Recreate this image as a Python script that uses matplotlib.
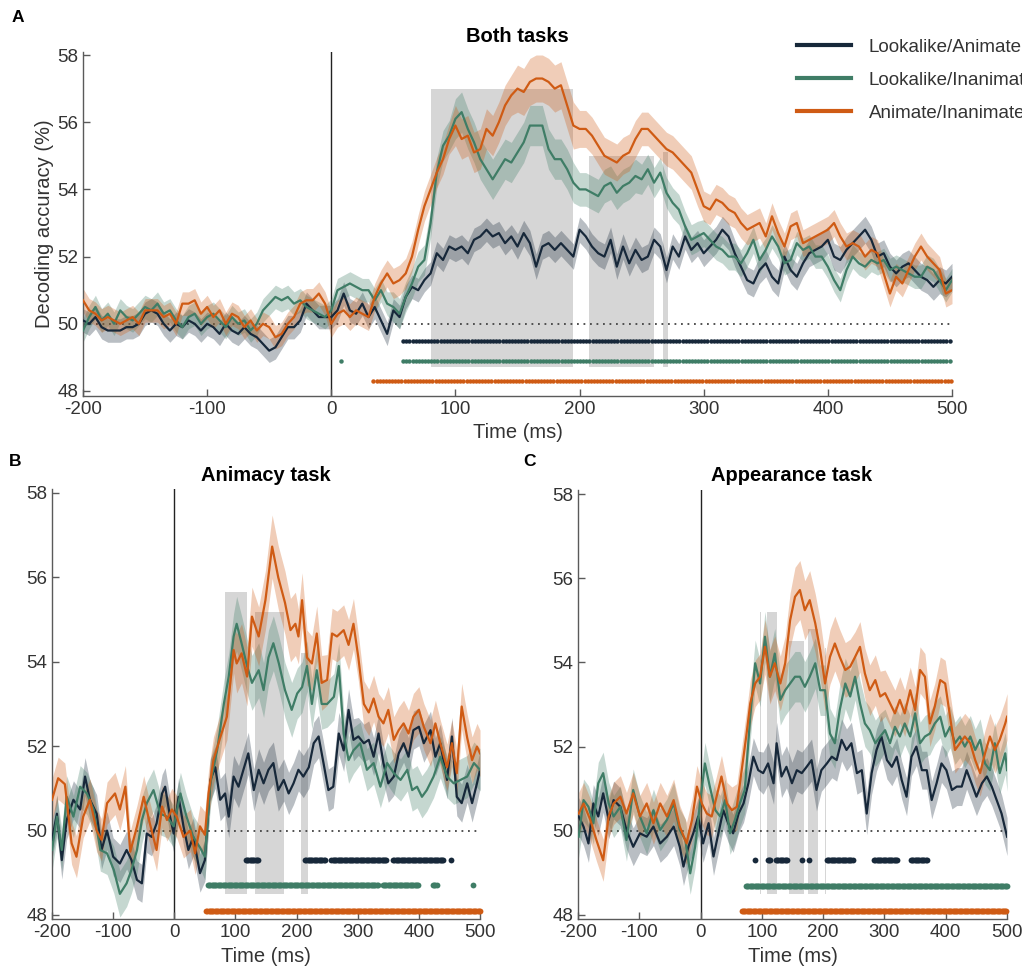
import numpy as np
import matplotlib.pyplot as plt
from matplotlib.patches import Rectangle
from matplotlib.lines import Line2D

plt.rcParams['font.family'] = ['Liberation Sans', 'DejaVu Sans']
plt.rcParams['axes.unicode_minus'] = False

# ---------------- data ----------------
labels = ['Lookalike/Animate', 'Lookalike/Inanimate', 'Animate/Inanimate']

# Panel A (both tasks), 5 ms steps from -200 to 500
t_a = np.arange(-200, 501, 5)
a_dark = [50.1, 50.0, 50.2, 49.9, 49.8, 49.8, 49.8, 49.9, 49.9, 50.0,
          50.3, 50.4, 50.3, 50.0, 49.8, 50.0, 49.9, 50.1, 50.0, 49.8,
          50.0, 49.9, 49.7, 50.0, 49.8, 49.7, 49.9, 49.7, 49.6, 49.4,
          49.2, 49.3, 49.6, 49.9, 49.9, 50.1, 50.6, 50.4, 50.2, 50.2,
          50.2, 50.4, 50.9, 50.4, 50.3, 50.6, 50.2, 50.5, 50.1, 49.7,
          50.4, 50.2, 50.8, 51.1, 51.0, 51.3, 51.5, 52.1, 51.9, 52.3,
          52.2, 52.3, 52.1, 52.5, 52.6, 52.8, 52.6, 52.7, 52.4, 52.6,
          52.3, 52.7, 52.4, 51.7, 52.3, 52.4, 52.2, 52.4, 52.2, 52.0,
          52.8, 52.6, 52.3, 52.1, 52.0, 52.5, 51.7, 52.3, 51.8, 52.2,
          51.9, 52.0, 52.5, 52.3, 51.6, 52.3, 52.0, 52.6, 52.2, 52.4,
          52.1, 52.3, 52.5, 52.8, 52.6, 52.1, 51.7, 51.3, 51.2, 51.6,
          51.8, 51.4, 51.2, 52.0, 51.6, 51.4, 51.8, 52.1, 52.2, 52.3,
          52.5, 52.0, 51.9, 52.2, 52.4, 52.6, 52.8, 52.5, 52.0, 52.1,
          51.7, 51.5, 51.7, 51.8, 51.6, 51.4, 51.3, 51.1, 51.3, 51.2,
          51.4]
a_green = [49.8, 50.2, 50.5, 50.1, 50.3, 50.0, 50.4, 50.2, 50.1, 50.3,
           50.5, 50.4, 50.6, 50.3, 50.4, 50.1, 49.9, 50.2, 50.3, 50.0,
           50.2, 50.3, 50.1, 49.9, 50.2, 50.0, 50.1, 49.8, 50.0, 50.4,
           50.6, 50.8, 50.7, 50.8, 50.6, 50.7, 50.5, 50.4, 50.3, 50.2,
           50.4, 51.0, 51.1, 51.2, 51.1, 51.0, 51.0, 50.7, 51.0, 50.6,
           50.5, 50.3, 50.8, 51.2, 51.7, 51.9, 53.0, 54.5, 55.3, 55.6,
           56.1, 56.3, 55.8, 55.4, 54.9, 54.6, 54.3, 54.6, 54.9, 54.8,
           55.1, 55.4, 55.9, 55.9, 55.9, 55.2, 54.9, 54.9, 54.6, 54.2,
           54.0, 54.0, 53.9, 53.8, 54.1, 54.2, 53.9, 54.1, 54.2, 54.4,
           54.3, 54.6, 54.2, 54.5, 53.9, 53.6, 53.4, 52.9, 52.5, 52.6,
           52.7, 52.5, 52.3, 52.2, 52.0, 52.0, 51.8, 52.1, 52.5, 51.9,
           52.2, 52.6, 52.3, 51.8, 51.9, 52.4, 52.2, 52.3, 52.0, 52.0,
           51.7, 51.3, 51.0, 51.6, 52.0, 51.8, 51.7, 51.9, 51.8, 51.9,
           51.6, 51.7, 51.6, 51.5, 51.4, 51.4, 51.7, 51.6, 51.3, 51.0,
           51.3]
a_orange = [50.7, 50.4, 50.3, 50.1, 50.2, 50.1, 50.0, 50.1, 50.2, 50.0,
            50.4, 50.4, 50.4, 50.2, 50.3, 50.0, 50.6, 50.6, 50.7, 50.3,
            50.5, 50.2, 50.4, 50.0, 50.3, 50.2, 49.9, 50.1, 49.8, 50.0,
            49.9, 49.6, 49.7, 50.0, 50.2, 50.6, 50.7, 50.7, 50.9, 50.6,
            50.0, 50.3, 50.4, 50.2, 50.4, 50.3, 50.2, 50.8, 51.2, 51.5,
            51.2, 51.3, 51.5, 52.0, 52.8, 53.5, 54.0, 54.5, 54.9, 55.5,
            55.9, 55.5, 55.6, 55.1, 55.2, 55.8, 55.6, 56.0, 56.5, 56.8,
            57.0, 56.9, 57.2, 57.3, 57.3, 57.2, 57.0, 57.1, 56.5, 55.9,
            55.8, 55.8, 55.6, 55.3, 55.0, 54.9, 54.8, 55.0, 55.1, 55.5,
            55.8, 55.8, 55.6, 55.4, 55.2, 55.1, 54.9, 54.7, 54.5, 54.0,
            53.5, 53.4, 53.7, 53.6, 53.4, 53.3, 53.0, 52.8, 52.9, 53.0,
            52.6, 53.2, 52.7, 52.3, 52.9, 53.0, 52.4, 52.5, 52.6, 52.7,
            52.8, 53.0, 52.6, 52.3, 52.4, 52.3, 52.0, 52.2, 52.1, 51.5,
            50.9, 51.4, 51.2, 51.6, 52.0, 52.3, 52.0, 51.8, 51.6, 50.9,
            51.0]
# SEM per 50 ms epoch (-200..-150, ..., 450..500)
a_sem_dark = [0.35, 0.35, 0.35, 0.35, 0.35, 0.35, 0.35, 0.38, 0.38, 0.38, 0.4, 0.4, 0.4, 0.4]
a_sem_green = [0.35, 0.35, 0.35, 0.35, 0.35, 0.45, 0.6, 0.6, 0.5, 0.45, 0.4, 0.35, 0.35, 0.35]
a_sem_orange = [0.35, 0.35, 0.35, 0.35, 0.4, 0.45, 0.6, 0.7, 0.55, 0.5, 0.45, 0.4, 0.4, 0.4]

# Panel B (animacy task)
b_t_dark = [-200, -192, -184, -176, -165, -154, -146, -138, -127, -119, -110, -100, -89, -78, -70,
            -61, -53, -45, -37, -29, -20, -15, -7, -1, 7, 15, 23, 31, 42, 50, 59, 67, 75, 83, 89,
            97, 105, 113, 121, 130, 138, 146, 154, 162, 170, 179, 187, 195, 203, 211, 220, 228, 236,
            244, 252, 260, 269, 277, 285, 293, 301, 310, 318, 326, 334, 342, 350, 359, 367, 375, 383,
            391, 400, 408, 419, 427, 435, 446, 454, 462, 470, 479, 487, 495, 500]
b_dark = [49.78, 50.4, 49.3, 50.25, 50.73, 50.5, 51.28, 50.73, 50.4, 49.54, 50.0, 49.38, 49.22, 49.54,
          49.3, 48.83, 48.75, 49.93, 49.85, 50.17, 50.88, 51.04, 50.33, 49.93, 50.8, 50.1, 49.54, 49.85,
          48.99, 49.3, 51.2, 51.5, 50.73, 50.88, 50.33, 51.28, 51.04, 51.44, 51.83, 50.96, 51.44, 51.12,
          51.44, 51.6, 50.96, 51.2, 50.88, 51.12, 51.44, 51.28, 51.5, 52.07, 52.23, 51.6, 50.96, 51.04,
          52.3, 51.9, 52.86, 52.15, 52.23, 52.07, 52.15, 51.75, 52.3, 51.6, 51.12, 51.28, 51.83, 52.07,
          51.75, 52.38, 52.46, 52.07, 52.38, 51.75, 52.07, 51.2, 52.23, 50.8, 50.65, 51.12, 50.65, 51.12,
          51.44]
b_t_green = [-200, -192, -184, -176, -165, -154, -143, -132, -121, -110, -99, -89, -78, -70, -61,
             -53, -45, -34, -23, -12, -1, 10, 20, 31, 42, 50, 59, 70, 81, 89, 97, 102, 110, 119, 127,
             138, 146, 154, 162, 171, 181, 192, 201, 209, 217, 225, 233, 241, 250, 261, 269, 277, 285,
             293, 304, 315, 326, 337, 348, 359, 370, 381, 389, 397, 405, 413, 424, 435, 446, 457, 468,
             479, 490, 500]
b_green = [49.54, 50.33, 49.54, 50.8, 50.33, 51.04, 50.88, 50.5, 49.54, 49.46, 49.07, 48.5, 48.75,
           49.07, 49.54, 50.25, 50.65, 50.96, 50.4, 50.33, 50.1, 50.88, 50.33, 49.85, 49.6, 49.38,
           51.12, 51.9, 53.0, 53.65, 54.6, 54.9, 54.44, 53.9, 53.5, 53.8, 53.33, 54.1, 54.44, 53.96,
           53.33, 52.86, 53.25, 53.4, 53.9, 53.0, 53.8, 53.0, 53.0, 53.17, 53.9, 52.3, 51.67, 51.9,
           52.07, 51.44, 51.6, 51.04, 51.6, 51.36, 51.2, 51.44, 50.96, 51.04, 50.8, 50.96, 51.28,
           51.75, 51.28, 51.12, 51.2, 51.28, 51.6, 51.44]
b_t_orange = [-200, -190, -179, -168, -160, -149, -138, -127, -119, -110, -97, -89, -80, -72, -61,
              -50, -40, -29, -20, -12, -4, 4, 15, 26, 34, 42, 50, 56, 64, 75, 86, 97, 102, 110, 119,
              127, 138, 149, 160, 170, 181, 190, 198, 203, 209, 217, 225, 233, 241, 250, 258, 266,
              277, 285, 293, 301, 310, 318, 326, 334, 342, 350, 359, 367, 375, 383, 391, 400, 408,
              419, 427, 435, 446, 454, 462, 470, 479, 487, 495, 500]
b_orange = [50.73, 51.24, 51.1, 49.7, 49.38, 50.33, 50.73, 50.0, 49.78, 50.65, 50.88, 50.5, 51.04,
            49.5, 50.1, 50.8, 50.17, 49.54, 50.57, 50.25, 50.5, 50.33, 49.85, 50.0, 49.46, 50.1,
            49.9, 50.88, 51.67, 52.2, 52.7, 54.28, 53.96, 54.2, 53.65, 55.07, 54.6, 55.46, 56.73,
            56.0, 55.4, 54.75, 54.9, 54.6, 55.46, 54.1, 53.96, 54.67, 53.5, 53.57, 54.67, 54.6,
            54.75, 54.4, 54.9, 54.1, 53.0, 52.8, 53.13, 52.7, 52.54, 52.86, 52.15, 52.38, 52.54,
            52.3, 52.7, 52.86, 52.46, 52.07, 52.54, 52.07, 51.5, 52.07, 51.36, 52.94, 52.2, 51.67,
            51.99, 51.83]
b_sem_dark = [0.45, 0.45, 0.45, 0.45, 0.45, 0.5, 0.5, 0.5, 0.5, 0.5, 0.45, 0.45, 0.45, 0.45]
b_sem_green = [0.5, 0.5, 0.55, 0.5, 0.5, 0.55, 0.65, 0.65, 0.6, 0.55, 0.5, 0.5, 0.5, 0.5]
b_sem_orange = [0.5, 0.5, 0.5, 0.5, 0.5, 0.55, 0.7, 0.75, 0.65, 0.6, 0.55, 0.55, 0.55, 0.55]

# Panel C (appearance task)
c_t_dark = [-199, -191, -183, -175, -167, -159, -150, -142, -131, -121, -110, -99, -88, -77, -66,
            -55, -44, -34, -28, -20, -12, -4, 4, 13, 21, 29, 37, 45, 53, 62, 70, 78, 86, 94, 102,
            110, 119, 124, 132, 140, 149, 157, 165, 173, 181, 189, 197, 206, 214, 222, 230, 238, 246,
            255, 263, 271, 279, 287, 295, 304, 312, 320, 328, 336, 344, 352, 361, 369, 377, 385, 393,
            401, 410, 418, 426, 434, 442, 450, 459, 467, 475, 483, 491, 500]
c_dark = [50.34, 50.1, 49.7, 50.65, 50.34, 50.89, 50.26, 50.73, 50.57, 50.02, 49.62, 49.94, 49.86,
          50.1, 49.7, 49.86, 50.1, 49.62, 49.15, 49.62, 49.94, 50.34, 49.7, 50.18, 49.39, 49.94,
          50.49, 50.18, 49.94, 50.41, 50.65, 51.13, 51.76, 51.44, 51.37, 51.6, 51.13, 52.08, 51.29,
          51.52, 51.13, 51.44, 51.37, 51.52, 51.68, 50.97, 51.44, 51.6, 51.76, 51.68, 52.16, 51.92,
          52.08, 51.37, 51.44, 50.41, 51.37, 51.92, 52.24, 51.68, 51.52, 51.76, 51.21, 50.81, 51.76,
          52.0, 51.44, 51.44, 50.73, 51.13, 51.6, 51.44, 50.97, 51.05, 51.05, 51.44, 51.13, 50.81,
          51.13, 51.29, 51.05, 50.73, 50.41, 49.86]
c_t_green = [-199, -191, -183, -175, -167, -159, -150, -142, -131, -121, -110, -99, -88, -77, -66,
             -55, -44, -34, -25, -17, -9, -1, 7, 15, 24, 32, 40, 48, 56, 64, 72, 81, 89, 97, 105,
             113, 121, 130, 138, 146, 154, 162, 170, 178, 187, 195, 203, 211, 219, 227, 236, 244,
             252, 260, 268, 276, 285, 293, 301, 309, 317, 325, 333, 342, 350, 358, 366, 374, 382,
             391, 399, 407, 415, 423, 431, 440, 448, 456, 464, 472, 480, 488, 497, 500]
c_green = [49.86, 50.73, 50.57, 50.18, 51.13, 51.37, 50.65, 50.34, 50.57, 49.78, 50.97, 50.34,
           49.94, 50.49, 50.02, 50.26, 50.65, 50.02, 49.78, 48.99, 49.62, 50.65, 51.6, 51.05, 50.49,
           50.34, 50.73, 49.94, 50.26, 50.65, 50.97, 52.71, 53.98, 53.5, 54.61, 53.66, 54.21, 53.11,
           53.34, 53.5, 53.66, 53.66, 53.42, 53.66, 53.98, 53.34, 53.34, 52.31, 52.08, 52.87, 53.5,
           53.19, 53.66, 53.03, 52.55, 52.39, 52.08, 52.24, 52.39, 52.08, 52.47, 52.24, 52.55, 52.24,
           52.79, 52.08, 52.24, 52.31, 52.55, 52.71, 52.24, 52.47, 52.08, 52.24, 52.0, 52.24, 51.92,
           52.16, 51.6, 51.44, 52.08, 51.37, 51.84, 51.44]
c_t_orange = [-199, -191, -180, -170, -159, -150, -142, -131, -121, -110, -99, -88, -77, -66, -55,
              -44, -34, -23, -14, -6, 2, 10, 18, 26, 34, 43, 51, 59, 67, 75, 81, 89, 97, 105, 113,
              121, 130, 138, 146, 154, 162, 170, 178, 187, 195, 203, 211, 219, 227, 236, 244, 252,
              260, 268, 276, 285, 293, 301, 309, 317, 325, 333, 342, 350, 358, 366, 374, 382, 391,
              399, 407, 415, 423, 431, 440, 448, 456, 464, 472, 480, 488, 497, 500]
c_orange = [50.41, 50.65, 50.26, 49.78, 49.3, 50.34, 50.65, 50.81, 50.41, 50.89, 50.34, 50.65,
            50.18, 50.65, 50.34, 50.73, 50.1, 49.7, 50.26, 51.05, 50.65, 50.41, 50.34, 50.81, 51.29,
            50.65, 50.49, 50.57, 51.44, 52.31, 53.03, 53.5, 53.66, 54.37, 53.66, 53.98, 53.5, 53.98,
            55.0, 55.56, 55.72, 55.24, 55.48, 54.93, 54.3, 53.5, 54.13, 54.45, 54.13, 53.82, 53.9,
            54.13, 54.37, 53.74, 53.34, 53.58, 53.19, 53.27, 53.03, 52.79, 53.11, 52.79, 53.34, 52.87,
            53.82, 53.66, 52.55, 52.95, 53.58, 53.5, 52.71, 51.92, 52.08, 52.24, 52.08, 51.68, 51.37,
            51.84, 52.24, 51.92, 52.16, 52.55, 52.71]
c_sem_dark = [0.45, 0.45, 0.45, 0.45, 0.45, 0.45, 0.5, 0.5, 0.5, 0.5, 0.45, 0.45, 0.45, 0.45]
c_sem_green = [0.5, 0.5, 0.5, 0.5, 0.5, 0.55, 0.6, 0.6, 0.6, 0.55, 0.5, 0.5, 0.5, 0.5]
c_sem_orange = [0.5, 0.5, 0.5, 0.5, 0.5, 0.55, 0.65, 0.7, 0.65, 0.6, 0.55, 0.55, 0.55, 0.55]

# grey highlighted windows (start, end, top) in ms / %
a_win_start = [80, 208, 267]
a_win_end = [195, 260, 271]
a_win_top = [57.0, 55.0, 55.1]
b_win_start = [83, 132, 208]
b_win_end = [119, 180, 219]
b_win_top = [55.65, 55.18, 54.2]
c_win_start = [97, 108, 144, 175, 203]
c_win_end = [98, 124, 169, 192, 204]
c_win_top = [55.2, 55.2, 54.5, 54.8, 54.35]

# significant time windows per contrast (start, end) in ms
a_sig = [[(58, 500)], [(8, 8), (58, 500)], [(34, 500)]]
b_sig = [[(117, 137), (214, 247), (257, 348), (358, 440), (453, 453)],
         [(55, 334), (341, 399), (423, 430), (489, 489)],
         [(52, 500)]]
c_sig = [[(89, 89), (110, 115), (123, 141), (165, 165), (177, 177), (206, 249), (283, 322), (343, 369)],
         [(74, 500)],
         [(67, 500)]]

colors = ['#17283a', '#3f7d66', '#cf5b14']
grey_txt = '#333333'


def epoch_sem(times, epochs):
    idx = np.clip(((np.asarray(times) + 200) // 50).astype(int), 0, len(epochs) - 1)
    return np.asarray(epochs)[idx]


def draw_panel(ax, series, win, sig, sig_rows, win_bottom, dot_step, dot_size, ylim):
    for s, e, top in zip(*win):
        ax.add_patch(Rectangle((s, win_bottom), e - s, top - win_bottom,
                               facecolor='#d6d6d6', edgecolor='none', zorder=0))
    ax.axvline(0, color='#222222', lw=1.0, zorder=1)
    ax.plot([-200, 500], [50, 50], ls=(0, (1, 2.6)), color='#444444', lw=1.3, zorder=1)
    for (t, m, sem), c in zip(series, colors):
        t = np.asarray(t)
        m = np.asarray(m)
        sd = epoch_sem(t, sem)
        ax.fill_between(t, m - sd, m + sd, color=c, alpha=0.3, lw=0, zorder=2)
    for (t, m, sem), c in zip(series, colors):
        ax.plot(t, m, color=c, lw=1.6, zorder=3)
    for windows, y, c in zip(sig, sig_rows, colors):
        for s, e in windows:
            xs = np.arange(s, e + 0.01, dot_step)
            ax.plot(xs, np.full(len(xs), y), 'o', color=c, ms=dot_size, mew=0,
                    clip_on=False, zorder=4)

    ax.set_xlim(-200, 500)
    ax.set_ylim(*ylim)
    ax.set_xticks(range(-200, 501, 100))
    ax.set_yticks(range(48, 59, 2))
    for side in ['top', 'right']:
        ax.spines[side].set_visible(False)
    for side in ['left', 'bottom']:
        ax.spines[side].set_color('#5a5a5a')
        ax.spines[side].set_linewidth(1.0)
    ax.tick_params(direction='in', length=5, width=1, color='#5a5a5a',
                   labelsize=13.5, labelcolor=grey_txt)
    ax.set_xlabel('Time (ms)', fontsize=14.5, color=grey_txt, labelpad=4)


fig = plt.figure(figsize=(10.22, 9.69), dpi=100)
axA = fig.add_axes([0.0812, 0.5913, 0.8503, 0.3554])
axB = fig.add_axes([0.0509, 0.0514, 0.4188, 0.4442])
axC = fig.add_axes([0.5656, 0.0514, 0.4198, 0.4431])

draw_panel(axA, [(t_a, a_dark, a_sem_dark), (t_a, a_green, a_sem_green), (t_a, a_orange, a_sem_orange)],
           (a_win_start, a_win_end, a_win_top), a_sig, [49.5, 48.9, 48.3], 48.7, 2.5, 3.2, (47.85, 58.1))
draw_panel(axB, [(b_t_dark, b_dark, b_sem_dark), (b_t_green, b_green, b_sem_green),
                 (b_t_orange, b_orange, b_sem_orange)],
           (b_win_start, b_win_end, b_win_top), b_sig, [49.3, 48.7, 48.1], 48.5, 2, 4.2, (47.9, 58.1))
draw_panel(axC, [(c_t_dark, c_dark, c_sem_dark), (c_t_green, c_green, c_sem_green),
                 (c_t_orange, c_orange, c_sem_orange)],
           (c_win_start, c_win_end, c_win_top), c_sig, [49.3, 48.7, 48.1], 48.5, 2, 4.2, (47.9, 58.1))

axA.set_ylabel('Decoding accuracy (%)', fontsize=14.5, color=grey_txt, labelpad=2)

# legend runs off the right edge of the figure, as in the original
handles = [Line2D([], [], color=c, lw=3) for c in colors]
axA.legend(handles, labels, loc='upper left', bbox_to_anchor=(0.780, 0.960),
           bbox_transform=fig.transFigure, frameon=False, fontsize=13.5,
           handlelength=2.85, handletextpad=0.98, labelspacing=0.85,
           borderpad=0, borderaxespad=0, labelcolor=grey_txt)

fig.text(517 / 1022, 1 - 37 / 969, 'Both tasks', fontsize=14.5, fontweight='bold', ha='center', va='center')
fig.text(266 / 1022, 1 - 475 / 969, 'Animacy task', fontsize=14.5, fontweight='bold', ha='center', va='center')
fig.text(792 / 1022, 1 - 475 / 969, 'Appearance task', fontsize=14.5, fontweight='bold', ha='center', va='center')
fig.text(18 / 1022, 1 - 17 / 969, 'A', fontsize=12.5, fontweight='bold', ha='center', va='center')
fig.text(15 / 1022, 1 - 462 / 969, 'B', fontsize=12.5, fontweight='bold', ha='center', va='center')
fig.text(529 / 1022, 1 - 462 / 969, 'C', fontsize=12.5, fontweight='bold', ha='center', va='center')

fig.savefig('out.png', dpi=100)
